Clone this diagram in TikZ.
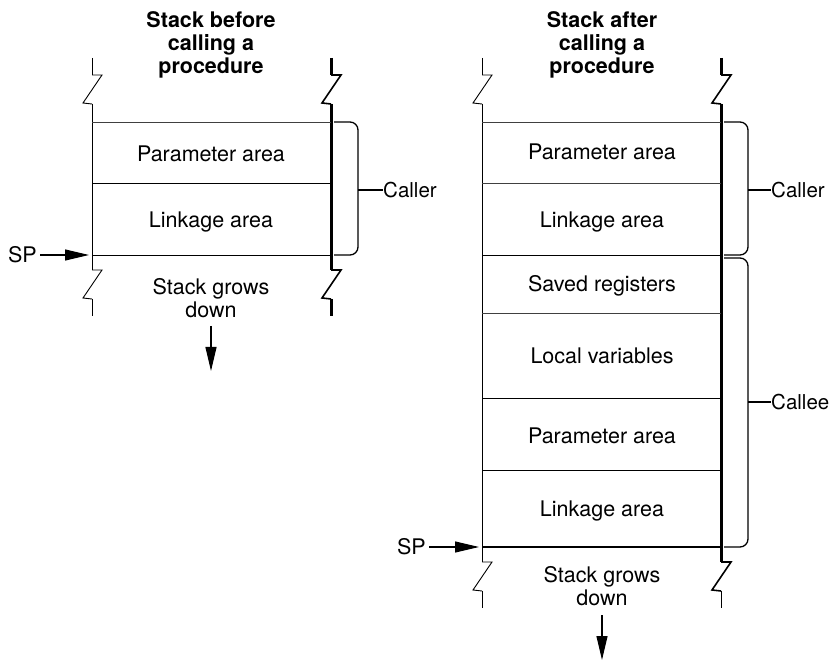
\documentclass[tikz,border=0pt]{standalone}
\usepackage{fontspec}
\setmainfont{TeX Gyre Heros}
\usetikzlibrary{arrows.meta}
\newcommand\zzbreak[3][]{\draw[#1] (#2,#3) -- ++(10,0) -- ++(-19,28) -- ++(9,1);}
\begin{document}
\begin{tikzpicture}[x=1pt,y=-1pt,
  txt/.style={font=\fontsize{21.5}{23}\selectfont, inner sep=0pt, align=center},
  sidelbl/.style={font=\fontsize{20.5}{23}\selectfont, inner sep=0pt, anchor=west},
  ttl/.style={font=\fontsize{21.5}{23}\selectfont\bfseries, inner sep=0pt, align=center},
  thinln/.style={line width=0.9pt},
  thickln/.style={line width=3pt},
  zzthick/.style={line width=1.6pt},
  brace/.style={line width=1.3pt, rounded corners=8pt},
  bigarrow/.style={line width=1.2pt, -{Triangle[length=24pt,width=11pt]}}]
\useasboundingbox (0,0) rectangle (831,660);

% ---------- LEFT: before ----------
\node[ttl] (t1) at (211,45) {Stack before\\calling a\\procedure};
% left wall
\draw[thinln] (92,58) -- (92,75);
\zzbreak[thinln]{92}{75}
\draw[thinln] (92,104) -- (92,270);
\zzbreak[thinln]{92}{270}
\draw[thinln] (92,299) -- (92,316);
% right thick wall
\draw[thickln] (331,58) -- (331,75);
\zzbreak[zzthick]{331}{75}
\draw[thickln] (331,104) -- (331,270);
\zzbreak[zzthick]{331}{270}
\draw[thickln] (331,299) -- (331,316);
% cell lines
\draw[thinln, black!75] (92,122) -- (331,122);
\draw[thinln] (92,183) -- (331,183);
\draw[thinln] (92,255) -- (331,255);
\node[txt] (pa1) at (211,154) {Parameter area};
\node[txt] (la1) at (211,222) {Linkage area};
\node[txt] (gr1) at (211,298) {Stack grows\\down};
\coordinate (ga1) at (211,326);
\coordinate (gb1) at (211,371);
\draw[bigarrow] (ga1) -- (gb1);
% SP
\node[txt, anchor=east] (sp1) at (37,255) {SP};
\coordinate (spt1) at (89,255);
\draw[bigarrow] (sp1.east) ++(3,0) -- (spt1);
% brace Caller
\coordinate (cb1a) at (334,122);
\coordinate (cb1b) at (334,255);
\draw[brace] (cb1a) -- (358,122) -- (358,255) -- (cb1b);
\node[sidelbl] (caller1) at (383,190) {Caller};
\draw[line width=1.3pt] (358,190) -- (caller1.west);

% ---------- RIGHT: after ----------
\node[ttl] (t2) at (602,45) {Stack after\\calling a\\procedure};
\draw[thinln] (482,58) -- (482,75);
\zzbreak[thinln]{482}{75}
\draw[thinln] (482,104) -- (482,562);
\zzbreak[thinln]{482}{562}
\draw[thinln] (482,591) -- (482,608);
\draw[thickln] (721,58) -- (721,75);
\zzbreak[zzthick]{721}{75}
\draw[thickln] (721,104) -- (721,562);
\zzbreak[zzthick]{721}{562}
\draw[thinln] (721,591) -- (721,608);
% cell lines
\draw[thinln, black!75] (482,122) -- (721,122);
\draw[thinln, black!75] (482,183) -- (721,183);
\draw[thinln] (482,255) -- (721,255);
\draw[thinln, black!75] (482,313) -- (721,313);
\draw[thinln] (482,398) -- (721,398);
\draw[thinln] (482,470) -- (721,470);
\draw[line width=2pt] (482,547) -- (721,547);
\node[txt] (pa2) at (602,152) {Parameter area};
\node[txt] (la2) at (602,222) {Linkage area};
\node[txt] (sr2) at (602,286) {Saved registers};
\node[txt] (lv2) at (602,356) {Local variables};
\node[txt] (pa3) at (602,436) {Parameter area};
\node[txt] (la3) at (602,511) {Linkage area};
\node[txt] (gr2) at (602,586) {Stack grows\\down};
\coordinate (ga2) at (602,615);
\coordinate (gb2) at (602,660);
\draw[bigarrow] (ga2) -- (gb2);
% SP
\node[txt, anchor=east] (sp2) at (426,547) {SP};
\coordinate (spt2) at (479,547);
\draw[bigarrow] (sp2.east) ++(3,0) -- (spt2);
% braces
\coordinate (cb2a) at (724,122);
\coordinate (cb2b) at (724,255);
\draw[brace] (cb2a) -- (748,122) -- (748,255) -- (cb2b);
\node[sidelbl] (caller2) at (771,190) {Caller};
\draw[line width=1.3pt] (748,190) -- (caller2.west);
\coordinate (cb3a) at (724,258);
\coordinate (cb3b) at (724,547);
\draw[brace] (cb3a) -- (748,258) -- (748,547) -- (cb3b);
\node[sidelbl] (callee) at (771,402) {Callee};
\draw[line width=1.3pt] (748,402) -- (callee.west);
\end{tikzpicture}
\end{document}
